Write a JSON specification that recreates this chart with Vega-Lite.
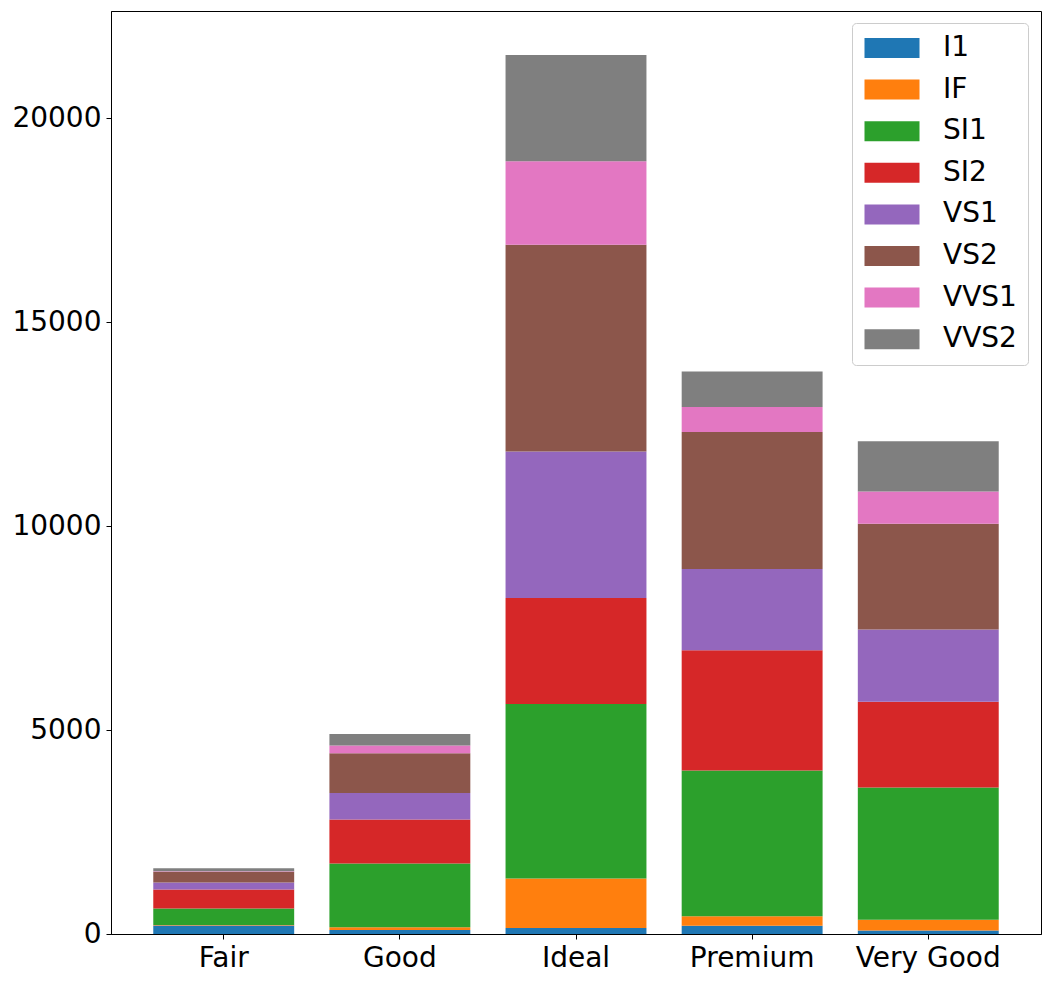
{
  "$schema": "https://vega.github.io/schema/vega-lite/v6.json",
  "width": 930,
  "height": 923,
  "autosize": {"type": "none"},
  "padding": {"left": 111, "top": 11, "right": 8, "bottom": 47},
  "background": "white",
  "config": {
    "font": "DejaVu Sans",
    "view": {"stroke": "black", "strokeWidth": 1},
    "axis": {
      "domainColor": "black",
      "tickColor": "black",
      "labelColor": "black",
      "labelFontSize": 28,
      "labelFont": "DejaVu Sans",
      "tickSize": 5,
      "grid": false,
      "title": null
    }
  },
  "data": {
    "values": [
      {"cut": "Fair", "clarity": "I1", "count": 210},
      {"cut": "Fair", "clarity": "IF", "count": 9},
      {"cut": "Fair", "clarity": "SI1", "count": 408},
      {"cut": "Fair", "clarity": "SI2", "count": 466},
      {"cut": "Fair", "clarity": "VS1", "count": 170},
      {"cut": "Fair", "clarity": "VS2", "count": 261},
      {"cut": "Fair", "clarity": "VVS1", "count": 17},
      {"cut": "Fair", "clarity": "VVS2", "count": 69},
      {"cut": "Good", "clarity": "I1", "count": 96},
      {"cut": "Good", "clarity": "IF", "count": 71},
      {"cut": "Good", "clarity": "SI1", "count": 1560},
      {"cut": "Good", "clarity": "SI2", "count": 1081},
      {"cut": "Good", "clarity": "VS1", "count": 648},
      {"cut": "Good", "clarity": "VS2", "count": 978},
      {"cut": "Good", "clarity": "VVS1", "count": 186},
      {"cut": "Good", "clarity": "VVS2", "count": 286},
      {"cut": "Ideal", "clarity": "I1", "count": 146},
      {"cut": "Ideal", "clarity": "IF", "count": 1212},
      {"cut": "Ideal", "clarity": "SI1", "count": 4282},
      {"cut": "Ideal", "clarity": "SI2", "count": 2598},
      {"cut": "Ideal", "clarity": "VS1", "count": 3589},
      {"cut": "Ideal", "clarity": "VS2", "count": 5071},
      {"cut": "Ideal", "clarity": "VVS1", "count": 2047},
      {"cut": "Ideal", "clarity": "VVS2", "count": 2606},
      {"cut": "Premium", "clarity": "I1", "count": 205},
      {"cut": "Premium", "clarity": "IF", "count": 230},
      {"cut": "Premium", "clarity": "SI1", "count": 3575},
      {"cut": "Premium", "clarity": "SI2", "count": 2949},
      {"cut": "Premium", "clarity": "VS1", "count": 1989},
      {"cut": "Premium", "clarity": "VS2", "count": 3357},
      {"cut": "Premium", "clarity": "VVS1", "count": 616},
      {"cut": "Premium", "clarity": "VVS2", "count": 870},
      {"cut": "Very Good", "clarity": "I1", "count": 84},
      {"cut": "Very Good", "clarity": "IF", "count": 268},
      {"cut": "Very Good", "clarity": "SI1", "count": 3240},
      {"cut": "Very Good", "clarity": "SI2", "count": 2100},
      {"cut": "Very Good", "clarity": "VS1", "count": 1775},
      {"cut": "Very Good", "clarity": "VS2", "count": 2591},
      {"cut": "Very Good", "clarity": "VVS1", "count": 789},
      {"cut": "Very Good", "clarity": "VVS2", "count": 1235}
    ]
  },
  "mark": {"type": "bar"},
  "encoding": {
    "x": {
      "field": "cut",
      "type": "nominal",
      "sort": ["Fair", "Good", "Ideal", "Premium", "Very Good"],
      "scale": {"paddingInner": 0.2, "paddingOuter": 0.24},
      "axis": {"labelAngle": 0, "labelPadding": 5, "domain": true}
    },
    "y": {
      "field": "count",
      "type": "quantitative",
      "aggregate": "sum",
      "stack": "zero",
      "scale": {"domain": [0, 22628], "nice": false, "zero": true},
      "axis": {"values": [0, 5000, 10000, 15000, 20000], "format": "d", "labelPadding": 5}
    },
    "color": {
      "field": "clarity",
      "type": "nominal",
      "scale": {
        "domain": ["I1", "IF", "SI1", "SI2", "VS1", "VS2", "VVS1", "VVS2"],
        "range": ["#1f77b4", "#ff7f0e", "#2ca02c", "#d62728", "#9467bd", "#8c564b", "#e377c2", "#7f7f7f"]
      },
      "legend": {
        "title": null,
        "orient": "none",
        "legendX": 741,
        "legendY": 12,
        "symbolType": "M-1,-0.8H3.4V0.8H-1Z",
        "symbolSize": 625,
        "symbolStrokeWidth": 0,
        "symbolOpacity": 1,
        "labelFontSize": 28,
        "labelFont": "DejaVu Sans",
        "labelColor": "black",
        "labelOffset": 52,
        "rowPadding": 13.6,
        "padding": 11,
        "strokeColor": "#cccccc",
        "fillColor": "rgba(255,255,255,0.8)",
        "cornerRadius": 4
      }
    },
    "order": {"field": "clarity", "sort": "ascending"}
  }
}
